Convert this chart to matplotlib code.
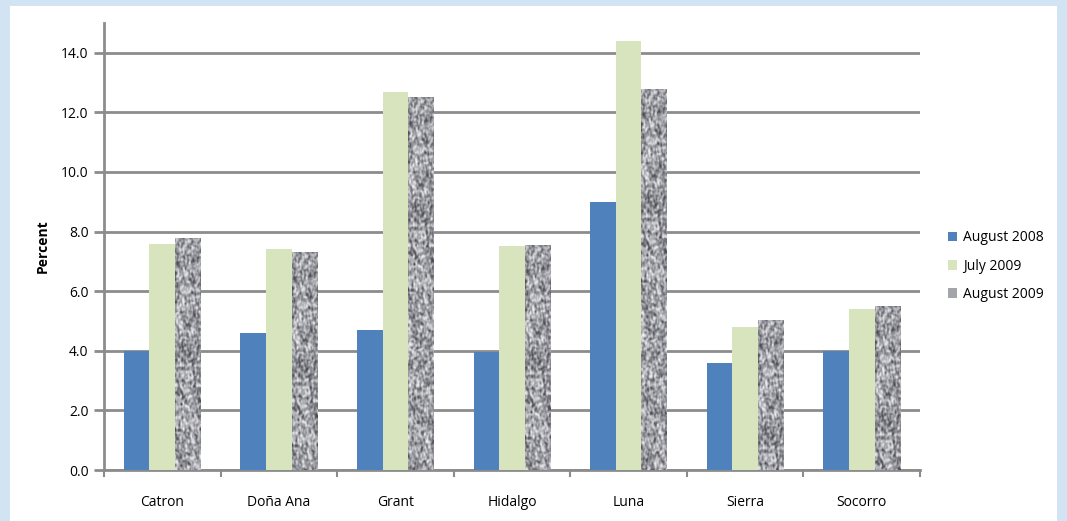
import numpy as np
import matplotlib
matplotlib.use("Agg")
import matplotlib.pyplot as plt
from matplotlib.patches import Rectangle
from matplotlib.colors import LinearSegmentedColormap

plt.rcParams['font.family'] = ['Open Sans', 'DejaVu Sans']

counties = ["Catron", "Doña Ana", "Grant", "Hidalgo", "Luna", "Sierra", "Socorro"]
aug2008 = [4.0, 4.6, 4.7, 3.95, 9.0, 3.6, 4.0]
jul2009 = [7.6, 7.4, 12.7, 7.5, 14.4, 4.8, 5.4]
aug2009 = [7.8, 7.3, 12.5, 7.55, 12.8, 5.05, 5.5]
yticks = [0, 2, 4, 6, 8, 10, 12, 14]

fig = plt.figure(figsize=(10.67, 5.21), dpi=100, facecolor="#d2e3f4")
# white panel
fig.patches.append(Rectangle((10/1067, 0), 1047/1067, 1-6/521, transform=fig.transFigure,
                             facecolor="white", edgecolor="none", zorder=-10))
ax = fig.add_axes([104/1067, 51/521, (920-104)/1067, (470-23)/521])
ax.set_facecolor("none")

x = np.arange(len(counties))
w = 0.22
b1 = ax.bar(x - w, aug2008, w, color="#4f81bd", label="August 2008", zorder=3)
b2 = ax.bar(x, jul2009, w, color="#d7e4bd", label="July 2009", zorder=3)
b3 = ax.bar(x + w, aug2009, w, color="#a4a5aa", label="August 2009", zorder=3)

# granite-like texture for the August 2009 bars
granite = LinearSegmentedColormap.from_list("granite", ["#4a4a50", "#9fa0a6", "#eeeef0"])
rng = np.random.default_rng(7)
tex = rng.random((400, 40))
for _ in range(2):
    tex = (tex + np.roll(tex, 1, 0) + np.roll(tex, -1, 0) + np.roll(tex, 1, 1) + np.roll(tex, -1, 1)) / 5
for bar in b3:
    bx, by = bar.get_x(), bar.get_y()
    bw, bh = bar.get_width(), bar.get_height()
    n = max(int(bh / 15 * 400), 2)
    im = ax.imshow(tex[:n], cmap=granite, vmin=0.3, vmax=0.7, aspect="auto",
                   extent=(bx, bx + bw, by, by + bh), zorder=4, interpolation="bilinear")
    im.set_clip_path(bar)

ax.set_xlim(-0.5, len(counties) - 0.5)
ax.set_ylim(0, 15)
ax.set_yticks(yticks)
ax.set_yticklabels([f"{v:.1f}" for v in yticks])
ax.yaxis.grid(True, color="#8c8c8c", linewidth=2, zorder=1)
ax.set_axisbelow(True)

ax.set_xticks(x)
ax.set_xticklabels(counties)
ax.set_xticks(np.arange(len(counties) + 1) - 0.5, minor=True)
ax.tick_params(axis="x", which="major", length=0, pad=18, labelsize=10)
ax.tick_params(axis="x", which="minor", length=5, width=1.5, color="#8c8c8c", direction="out")
ax.tick_params(axis="y", length=7, width=2, color="#8c8c8c", labelsize=10, pad=4)

for s in ["top", "right"]:
    ax.spines[s].set_visible(False)
for s in ["left", "bottom"]:
    ax.spines[s].set_color("#8c8c8c")
    ax.spines[s].set_linewidth(2)

ax.set_ylabel("Percent", fontweight="bold", fontsize=10, labelpad=8)

fig.legend(handles=[b1, b2, b3], loc="center left", bbox_to_anchor=(935/1067, 1-266/521),
           frameon=False, fontsize=10, handlelength=0.7, handleheight=0.7,
           handletextpad=0.4, labelspacing=0.95)

fig.savefig("out.png", dpi=100, facecolor=fig.get_facecolor())
